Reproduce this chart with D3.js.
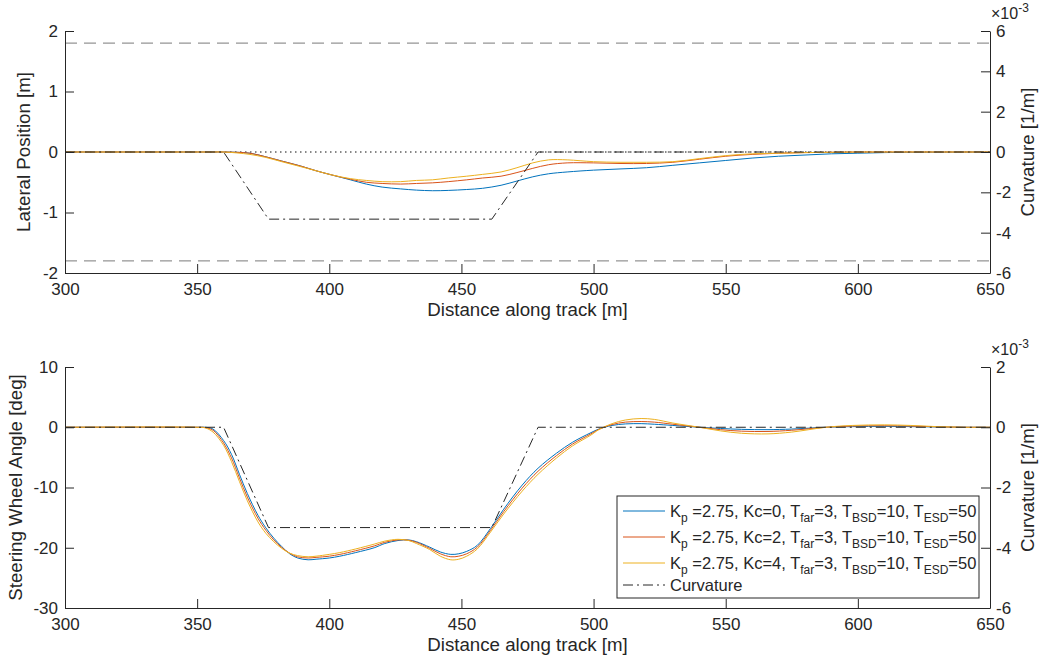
<!DOCTYPE html>
<html>
<head>
<meta charset="utf-8">
<script src="https://cdn.jsdelivr.net/npm/d3@7"></script>
<style>
  body { margin: 0; background: #fff; }
  svg text { font-family: Helvetica, "Liberation Sans", Arial, sans-serif; fill: #262626; }
</style>
</head>
<body>
<div id="chart"></div>
<script>
// ---- data ----
var latDist = [300, 355, 360, 365, 370, 376, 382, 389, 395, 401,
    408, 414, 420, 427, 433, 439, 445, 452, 458, 465,
    471, 477, 483, 490, 500, 510, 520, 530, 540, 550,
    560, 570, 580, 590, 600, 610, 620, 650];
var latKc0 = [0, 0, 0, -0.005, -0.02, -0.08, -0.15, -0.23, -0.31, -0.38,
    -0.46, -0.53, -0.58, -0.61, -0.63, -0.64, -0.635, -0.62, -0.6, -0.55,
    -0.48, -0.41, -0.36, -0.33, -0.3, -0.28, -0.26, -0.22, -0.18, -0.14,
    -0.1, -0.07, -0.05, -0.03, -0.02, -0.01, -0.005, 0];
var latKc2 = [0, 0, 0, -0.005, -0.02, -0.08, -0.15, -0.23, -0.31, -0.38,
    -0.45, -0.5, -0.52, -0.53, -0.52, -0.51, -0.49, -0.46, -0.43, -0.4,
    -0.34, -0.27, -0.21, -0.18, -0.18, -0.19, -0.19, -0.17, -0.12, -0.07,
    -0.04, -0.02, -0.01, -0.005, 0, 0, 0, 0];
var latKc4 = [0, 0, 0, -0.015, -0.04, -0.09, -0.16, -0.24, -0.31, -0.38,
    -0.44, -0.47, -0.49, -0.49, -0.47, -0.46, -0.43, -0.4, -0.37, -0.33,
    -0.26, -0.18, -0.13, -0.13, -0.16, -0.17, -0.17, -0.16, -0.11, -0.06,
    -0.03, -0.02, -0.01, -0.005, 0, 0, 0, 0];

var steerDist = [300, 350, 353, 356, 360, 363, 366, 369, 373, 376,
    379, 382, 385, 388, 392, 395, 400, 404, 410, 417,
    421, 426, 430, 433, 438, 442, 446, 449, 452, 456,
    461, 466, 473, 479, 486, 492, 499, 502, 507, 512,
    518, 523, 530, 540, 548, 556, 566, 575, 588, 598,
    610, 620, 630, 640, 650];
var steerKc0 = [0, 0, 0, -0.3, -2.2, -4.5, -7.8, -11.0, -14.6, -16.7,
    -18.4, -19.8, -21.0, -21.7, -22.0, -21.9, -21.7, -21.4, -20.8, -20.0,
    -19.3, -18.8, -18.7, -19.0, -19.9, -20.7, -21.1, -21.0, -20.6, -19.6,
    -16.8, -13.6, -9.6, -6.8, -4.3, -2.5, -0.9, -0.3, 0.3, 0.55,
    0.6, 0.5, 0.3, 0, -0.2, -0.35, -0.4, -0.3, 0, 0.1,
    0.15, 0.1, 0.05, 0, 0];
var steerKc2 = [0, 0, -0.05, -0.5, -2.6, -5.1, -8.4, -11.6, -15.1, -17.1,
    -18.7, -19.95, -20.9, -21.5, -21.7, -21.6, -21.4, -21.1, -20.5, -19.7,
    -19.1, -18.7, -18.75, -19.1, -20.1, -21.0, -21.5, -21.4, -21.0, -19.9,
    -17.1, -14.0, -10.1, -7.3, -4.7, -2.8, -1.1, -0.35, 0.45, 0.85,
    0.95, 0.85, 0.5, 0, -0.4, -0.65, -0.7, -0.5, 0, 0.2,
    0.25, 0.2, 0.07, 0, 0];
var steerKc4 = [0, 0, -0.1, -0.8, -3.0, -5.7, -9.0, -12.2, -15.7, -17.6,
    -19.0, -20.1, -20.9, -21.3, -21.5, -21.4, -21.1, -20.8, -20.2, -19.4,
    -18.9, -18.6, -18.8, -19.3, -20.3, -21.4, -22.0, -21.9, -21.4, -20.2,
    -17.4, -14.4, -10.6, -7.8, -5.1, -3.1, -1.3, -0.4, 0.6, 1.2,
    1.45, 1.3, 0.7, 0, -0.6, -1.0, -1.1, -0.8, 0, 0.3,
    0.4, 0.3, 0.1, 0, 0];

var curvDist = [300, 360, 377, 461.5, 479, 650];
var curvVal = [0, 0, -3.33e-3, -3.33e-3, 0, 0];

var laneEdge = [1.8, -1.8];
var kcValues = [0, 2, 4];
var colors = ["#0072BD", "#D95319", "#EDB120"];

var xTicks = [300, 350, 400, 450, 500, 550, 600, 650];
var latTicks = [-2, -1, 0, 1, 2];
var steerTicks = [-30, -20, -10, 0, 10];
var curvTicksTop = [-6e-3, -4e-3, -2e-3, 0, 2e-3, 4e-3, 6e-3];
var curvTicksBot = [-6e-3, -4e-3, -2e-3, 0, 2e-3];

// ---- layout ----
var W = 1048, H = 665;
var left = 65, right = 990;
var tickLen = 9;

var svg = d3.select("#chart")
    .append("svg")
    .attr("width", W)
    .attr("height", H);

var x = d3.scaleLinear().domain([300, 650]).range([left, right]);

var panels = [
    {top: 31, bottom: 273, yDom: [-2, 2], cDom: [-6e-3, 6e-3], yTicks: latTicks, cTicks: curvTicksTop,
        ylabel: "Lateral Position [m]", labelX: 30,
        dist: latDist, series: [latKc0, latKc2, latKc4]},
    {top: 367, bottom: 608, yDom: [-30, 10], cDom: [-6e-3, 2e-3], yTicks: steerTicks, cTicks: curvTicksBot,
        ylabel: "Steering Wheel Angle [deg]", labelX: 22,
        dist: steerDist, series: [steerKc0, steerKc2, steerKc4]}
];

function styleAxis(g) {
    g.attr("font-size", 17)
        .attr("font-family", null);
    g.selectAll("path, line").attr("stroke", "#262626");
    g.selectAll("text").attr("fill", "#262626");
}

panels.forEach(function(p, pi) {
    var y = d3.scaleLinear().domain(p.yDom).range([p.bottom, p.top]);
    var yc = d3.scaleLinear().domain(p.cDom).range([p.bottom, p.top]);
    var g = svg.append("g");

    if (pi === 0) {
        // lane boundaries
        g.selectAll(".lane")
            .data(laneEdge)
            .enter().append("line")
            .attr("x1", x(300)).attr("x2", x(650))
            .attr("y1", function(d) { return y(d); })
            .attr("y2", function(d) { return y(d); })
            .attr("stroke", "#7a7a7a")
            .attr("stroke-width", 1)
            .attr("stroke-dasharray", "12,7");
        // centre line
        g.append("line")
            .attr("x1", x(300)).attr("x2", x(650))
            .attr("y1", y(0)).attr("y2", y(0))
            .attr("stroke", "#111")
            .attr("stroke-width", 1)
            .attr("stroke-dasharray", "1.5,3.5");
    }

    var line = d3.line()
        .x(function(d) { return x(d[0]); })
        .y(function(d) { return y(d[1]); })
        .curve(d3.curveCatmullRom.alpha(0.5));

    p.series.forEach(function(vals, si) {
        g.append("path")
            .datum(p.dist.map(function(dd, i) { return [dd, vals[i]]; }))
            .attr("fill", "none")
            .attr("stroke", colors[si])
            .attr("stroke-width", 1)
            .attr("d", line);
    });

    var cline = d3.line()
        .x(function(d) { return x(d[0]); })
        .y(function(d) { return yc(d[1]); });

    g.append("path")
        .datum(curvDist.map(function(dd, i) { return [dd, curvVal[i]]; }))
        .attr("fill", "none")
        .attr("stroke", "#262626")
        .attr("stroke-width", 1)
        .attr("stroke-dasharray", "10,4,2,4")
        .attr("d", cline);

    // axes
    g.append("g")
        .attr("transform", "translate(0," + p.bottom + ")")
        .call(d3.axisBottom(x).tickValues(xTicks).tickSizeInner(-tickLen).tickSizeOuter(0).tickPadding(10)
            .tickFormat(function(d) { return String(d); }))
        .call(styleAxis);

    g.append("g")
        .attr("transform", "translate(" + left + ",0)")
        .call(d3.axisLeft(y).tickValues(p.yTicks).tickSizeInner(-tickLen).tickSizeOuter(0).tickPadding(7)
            .tickFormat(function(d) { return String(d); }))
        .call(styleAxis);

    g.append("g")
        .attr("transform", "translate(" + right + ",0)")
        .call(d3.axisRight(yc).tickValues(p.cTicks).tickSizeInner(-tickLen).tickSizeOuter(0).tickPadding(6)
            .tickFormat(function(d) { return String(Math.round(d * 1000)); }))
        .call(styleAxis);

    // labels
    g.append("text")
        .attr("x", (left + right) / 2)
        .attr("y", p.bottom + 43)
        .attr("text-anchor", "middle")
        .style("font-size", "18.7px")
        .text("Distance along track [m]");

    g.append("text")
        .attr("transform", "translate(" + p.labelX + "," + ((p.top + p.bottom) / 2) + ") rotate(-90)")
        .attr("text-anchor", "middle")
        .style("font-size", "18.7px")
        .text(p.ylabel);

    g.append("text")
        .attr("transform", "translate(1034," + ((p.top + p.bottom) / 2) + ") rotate(-90)")
        .attr("text-anchor", "middle")
        .style("font-size", "18.7px")
        .text("Curvature [1/m]");

    var ex = g.append("text")
        .attr("x", 991)
        .attr("y", p.top - 12)
        .style("font-size", "16px");
    ex.append("tspan").text("\u00d710");
    ex.append("tspan").attr("dy", -7).style("font-size", "12px").text("-3");

    if (pi === 1) {
        // legend
        var lg = g.append("g").attr("transform", "translate(617,496)");
        lg.append("rect")
            .attr("width", 362).attr("height", 102)
            .attr("fill", "#fff")
            .attr("stroke", "#262626")
            .attr("stroke-width", 1);

        var rowY = [15, 41, 67, 89];
        kcValues.forEach(function(kc, i) {
            var row = lg.append("g").attr("transform", "translate(0," + rowY[i] + ")");
            row.append("line")
                .attr("x1", 6).attr("x2", 48)
                .attr("stroke", colors[i]).attr("stroke-width", 1);
            var t = row.append("text").attr("x", 53).attr("y", 6).style("font-size", "16.5px");
            var parts = [["K", 0], ["p", 1], [" =2.75, Kc=" + kc + ", T", 0], ["far", 1], ["=3, T", 0],
                ["BSD", 1], ["=10, T", 0], ["ESD", 1], ["=50", 0]];
            parts.forEach(function(pt) {
                t.append("tspan")
                    .attr("dy", pt[1] ? 5 : (pt[0] === "K" ? 0 : -5))
                    .style("font-size", pt[1] ? "12px" : "16.5px")
                    .text(pt[0]);
            });
        });
        var crow = lg.append("g").attr("transform", "translate(0," + rowY[3] + ")");
        crow.append("line")
            .attr("x1", 6).attr("x2", 48)
            .attr("stroke", "#262626").attr("stroke-width", 1)
            .attr("stroke-dasharray", "10,4,2,4");
        crow.append("text").attr("x", 53).attr("y", 6).style("font-size", "16.5px").text("Curvature");
    }
});
</script>
</body>
</html>
